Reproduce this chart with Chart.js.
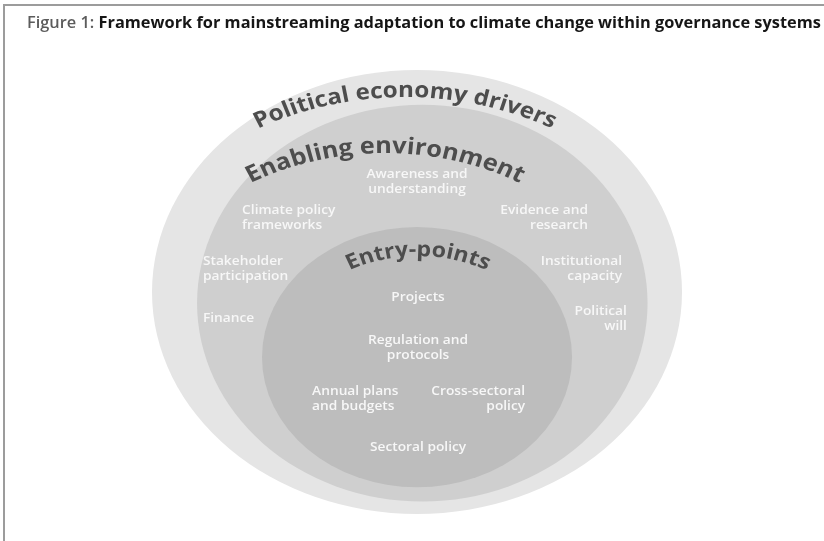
<!DOCTYPE html>
<html>
<head>
<meta charset="UTF-8" />
<title>Framework for mainstreaming adaptation to climate change</title>
<script src="https://cdn.jsdelivr.net/npm/chart.js"></script>
<style>
  html, body { margin: 0; padding: 0; background: #fff; }
  #wrap { position: relative; width: 824px; height: 541px; overflow: hidden; }
  #frame { position: absolute; left: 3px; top: 4px; right: -10px; bottom: -10px;
           border-top: 2px solid #9c9c9c; border-left: 2px solid #9c9c9c; }
  #title { position: absolute; left: 27px; top: 11px; font: 700 15.5px "Open Sans", sans-serif;
           color: #161616; white-space: nowrap; transform: scaleX(1.055); transform-origin: 0 0; }
  #title span { color: #5c5c5c; font-weight: 600; }
  canvas { position: absolute; left: 0; top: 0; }
</style>
</head>
<body>
<div id="wrap">
  <canvas id="diagram" width="824" height="541"></canvas>
  <div id="frame"></div>
  <div id="title"><span>Figure 1:</span> Framework for mainstreaming adaptation to climate change within governance systems</div>
</div>

<script>
// --- Rings (data units: outer ring = radius 100) ---
const ringNames = ['Political economy drivers', 'Enabling environment', 'Entry-points'];
const ringX = [0, 2, 0];
const ringY = [0, -5, -29.3];
const ringRadiusX = [100, 85, 58.5];
const ringRadiusY = [100, 89.4, 58.6];

// where each ring name bends (centre of the text, top of its baseline)
const arcX = [-4.5, -12, 0.4];
const arcY = [87.8, 62.6, 16.2];

// --- Items inside "Enabling environment" ---
const enablingItems = ['Awareness and\nunderstanding', 'Climate policy\nframeworks', 'Evidence and\nresearch',
  'Stakeholder\nparticipation', 'Institutional\ncapacity', 'Finance', 'Political\nwill'];
const enablingX = [0, -66, 64.5, -80.8, 77.4, -80.8, 79.2];
const enablingY = [49.5, 33.3, 33.3, 10.4, 10.4, -11.7, -12.2];
const enablingAlign = ['center', 'left', 'right', 'left', 'right', 'left', 'right'];

// --- Items inside "Entry-points" ---
const entryItems = ['Projects', 'Regulation and\nprotocols', 'Annual plans\nand budgets', 'Cross-sectoral\npolicy', 'Sectoral policy'];
const entryX = [0.4, 0.4, -39.6, 40.8, 0.4];
const entryY = [-2.3, -25.2, -48.2, -48.2, -69.8];
const entryAlign = ['center', 'center', 'left', 'right', 'center'];

// styles
const ringColors = ['#e5e5e5', '#cfcfcf', '#bdbdbd'];
const arcFontSize = [22, 23, 21];
const arcRadiusPx = [300, 265, 145];
const stretch = 1.1;

function drawArcText(ctx, text, cx, apexY, R) {
  ctx.save();
  ctx.translate(cx, apexY + R);
  ctx.scale(stretch, 1);
  const total = ctx.measureText(text).width;
  let a = -total / 2 / R;
  for (const ch of text) {
    const w = ctx.measureText(ch).width;
    ctx.save();
    ctx.rotate(a + w / 2 / R);
    ctx.fillText(ch, 0, -R);
    ctx.restore();
    a += w / R;
  }
  ctx.restore();
}

function drawBlock(ctx, text, px, py, align) {
  const lines = text.split('\n');
  const lh = 14.5;
  ctx.save();
  ctx.translate(px, py);
  ctx.scale(stretch, 1);
  ctx.textAlign = align;
  lines.forEach((ln, i) => {
    ctx.fillText(ln, 0, (i - (lines.length - 1) / 2) * lh);
  });
  ctx.restore();
}

const ringPlugin = {
  id: 'rings',
  beforeDatasetsDraw(chart) {
    const { ctx, scales: { x, y } } = chart;
    ctx.save();
    ringNames.forEach((name, i) => {
      const px = x.getPixelForValue(ringX[i]);
      const py = y.getPixelForValue(ringY[i]);
      const rx = Math.abs(x.getPixelForValue(ringX[i] + ringRadiusX[i]) - px);
      const ry = Math.abs(y.getPixelForValue(ringY[i] + ringRadiusY[i]) - py);
      ctx.beginPath();
      ctx.ellipse(px, py, rx, ry, 0, 0, Math.PI * 2);
      ctx.fillStyle = ringColors[i];
      ctx.fill();
    });
    ctx.restore();
  },
  afterDatasetsDraw(chart) {
    const { ctx, scales: { x, y } } = chart;
    ctx.save();
    // ring names along the arcs
    ctx.fillStyle = '#4d4d4d';
    ctx.textAlign = 'center';
    ctx.textBaseline = 'alphabetic';
    ringNames.forEach((name, i) => {
      ctx.font = '700 ' + arcFontSize[i] + 'px "Open Sans", sans-serif';
      drawArcText(ctx, name, x.getPixelForValue(arcX[i]), y.getPixelForValue(arcY[i]), arcRadiusPx[i]);
    });
    // white item labels
    ctx.fillStyle = '#f7f7f7';
    ctx.textBaseline = 'middle';
    ctx.font = '600 12.5px "Open Sans", sans-serif';
    enablingItems.forEach((t, i) => {
      drawBlock(ctx, t, x.getPixelForValue(enablingX[i]), y.getPixelForValue(enablingY[i]), enablingAlign[i]);
    });
    entryItems.forEach((t, i) => {
      drawBlock(ctx, t, x.getPixelForValue(entryX[i]), y.getPixelForValue(entryY[i]), entryAlign[i]);
    });
    ctx.restore();
  }
};

new Chart(document.getElementById('diagram'), {
  type: 'scatter',
  data: {
    datasets: [{
      label: 'Ring centres',
      data: ringX.map((v, i) => ({ x: v, y: ringY[i] })),
      pointRadius: 0
    }]
  },
  options: {
    responsive: false,
    animation: false,
    events: [],
    layout: { padding: 0 },
    scales: {
      x: { type: 'linear', min: -157.36, max: 153.58, display: false },
      y: { type: 'linear', min: -112.16, max: 131.53, display: false }
    },
    plugins: { legend: { display: false }, tooltip: { enabled: false }, title: { display: false } }
  },
  plugins: [ringPlugin]
});
</script>
</body>
</html>
